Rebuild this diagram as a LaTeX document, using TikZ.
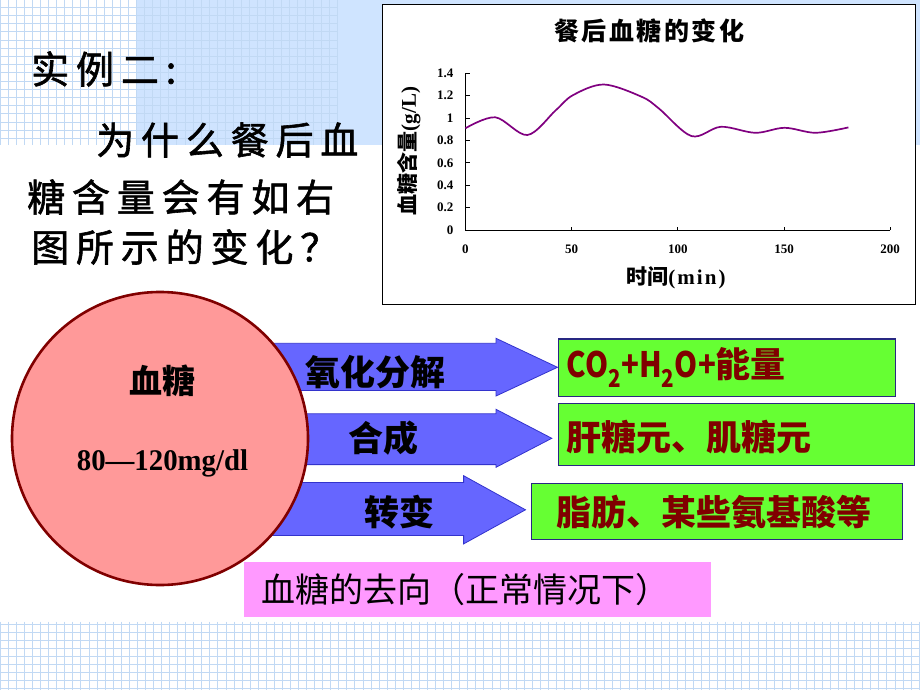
\documentclass[tikz,border=0pt]{standalone}
\usepackage{fontspec}
\usepackage{graphicx}
\setmainfont{Liberation Serif}
\newfontfamily\cjk{Noto Sans CJK SC}
\newfontfamily\cjkmid[FakeBold=1.5]{Noto Sans CJK SC}
\usetikzlibrary{shapes.geometric}
\definecolor{gridln}{RGB}{193,217,244}
\definecolor{skyfill}{RGB}{207,228,255}
\definecolor{arrowfill}{RGB}{102,102,255}
\definecolor{arrowline}{RGB}{51,51,204}
\definecolor{boxgreen}{RGB}{102,255,51}
\definecolor{boxline}{RGB}{40,40,130}
\definecolor{txtred}{RGB}{128,0,0}
\definecolor{circfill}{RGB}{255,153,153}
\definecolor{circline}{RGB}{128,0,0}
\definecolor{pinkbox}{RGB}{255,153,255}
\definecolor{curvecol}{RGB}{128,0,128}
\tikzset{
  gl/.style={draw=gridln, line width=0.9pt},
  blockarrow/.style={fill=arrowfill, draw=arrowline, line width=0.8pt, line join=miter},
  gbox/.style={fill=boxgreen, draw=boxline, line width=1.2pt, inner sep=0pt},
  gtext/.style={font=\cjk\bfseries\fontsize{35}{40}\selectfont, text=txtred, inner sep=0pt},
  atext/.style={font=\cjk\bfseries\fontsize{35}{40}\selectfont, inner sep=0pt},
  bigq/.style={font=\cjkmid\fontsize{38}{42}\selectfont\addfontfeatures{LetterSpace=18}, inner sep=0pt, anchor=west},
  ticklab/.style={font=\bfseries\fontsize{13}{15}\selectfont, inner sep=0pt},
}
\begin{document}
\begin{tikzpicture}[x=1pt,y=-1pt]
\useasboundingbox (0,0) rectangle (920,690);
% background decoration
\fill[skyfill] (137,0) rectangle (920,145);
\foreach \i in {0,...,42} \draw[gl] ({0.5+8.02*\i},0) -- ({0.5+8.02*\i},145);
\foreach \j in {0,...,16} \draw[gl] (0,{7.3+8.2*\j}) -- (337.3,{7.3+8.2*\j});
\foreach \i in {0,...,114} \draw[gl] ({0.3+8.06*\i},621.5) -- ({0.3+8.06*\i},690);
\foreach \j in {0,...,8} \draw[gl] (0,{624.5+8.05*\j}) -- (920,{624.5+8.05*\j});

% question text
\node[bigq] (q1) at (31,69) {实例二:};
\node[bigq] (q2) at (96,140) {为什么餐后血};
\node[bigq] (q3) at (27,197) {糖含量会有如右};
\node[bigq] (q4) at (31,247) {图所示的变化？};

% chart
\node[draw=black, fill=white, line width=0.9pt, minimum width=533, minimum height=300, inner sep=0pt, anchor=north west] (chart) at (382,4) {};
\node[font=\cjk\bfseries\fontsize{25}{28}\selectfont\addfontfeatures{LetterSpace=10}, inner sep=0pt] (ctitle) at (649,31) {餐后血糖的变化};
\coordinate (O) at (465.4,230);
\coordinate (ytop) at (465.4,73.3);
\coordinate (xend) at (890.2,230);
\draw[line width=0.8pt] (ytop) -- (O) -- (xend);
\foreach \v/\lab in {0/0,0.2/0.2,0.4/0.4,0.6/0.6,0.8/0.8,1/1,1.2/1.2,1.4/1.4} {
  \draw[line width=0.8pt] (465.4,{230-111.9*\v}) -- (469.5,{230-111.9*\v});
  \node[ticklab, anchor=east] at (453.5,{230-111.9*\v}) {\lab};
}
\foreach \t in {0,50,100,150,200} {
  \draw[line width=0.8pt] ({465.4+2.124*\t},230) -- ({465.4+2.124*\t},226.5);
  \node[ticklab] at ({465.4+2.124*\t},249) {\t};
}
\node[font=\bfseries\fontsize{21}{24}\selectfont, inner sep=0pt] (xlab) at (676,278) {{\cjk 时间}\addfontfeatures{LetterSpace=10}(min)};
\node[font=\bfseries\fontsize{21}{24}\selectfont, inner sep=0pt, rotate=90] (ylab) at (409,151) {{\cjk 血糖含量}(g/L)};
\draw[curvecol, line width=1.7pt] plot[smooth, tension=0.55] coordinates {
 (465.4,128.3) (495.3,117.3) (527.4,135.0) (555.7,110.3) (572.9,95.2)
 (603.9,84.5) (641.7,96.8) (658.9,108.5) (691.6,136.1) (720.9,126.8)
 (755.3,132.8) (784.6,127.8) (815.6,132.8) (848.4,127.4)};

% block arrows (behind the circle)
\path[blockarrow] (250,343.3) -- (496,343.3) -- (496,338.3) -- (557.5,367.3) -- (496,396) -- (496,390.5) -- (250,390.5) -- cycle;
\path[blockarrow] (250,413.8) -- (496,413.8) -- (496,409.3) -- (551.8,438.3) -- (496,467.3) -- (496,464.6) -- (250,464.6) -- cycle;
\path[blockarrow] (250,482.5) -- (463.6,482.5) -- (463.6,475.7) -- (525.5,509.8) -- (463.6,543.9) -- (463.6,535.5) -- (250,535.5) -- cycle;

% circle
\node[ellipse, fill=circfill, draw=circline, line width=2.6pt, minimum width=296, minimum height=293, inner sep=0pt] (blood) at (160,438.5) {};
\node[font=\cjk\bfseries\fontsize{33}{38}\selectfont, inner sep=0pt] (bname) at (162,381) {血糖};
\node[font=\bfseries\fontsize{30}{34}\selectfont, inner sep=0pt] (brange) at (162.5,463) {\scalebox{0.96}[1]{80—120mg/dl}};

% arrow labels
\node[atext] (a1) at (375.5,372) {氧化分解};
\node[atext] (a2) at (383,438) {合成};
\node[atext] (a3) at (399,512) {转变};

% green boxes
\node[gbox, minimum width=337.3, minimum height=57.2, anchor=north west] (b1) at (557.7,338.3) {};
\node[gbox, minimum width=356.5, minimum height=62, anchor=north west] (b2) at (557.5,403) {};
\node[gbox, minimum width=371, minimum height=56.5, anchor=north west] (b3) at (531,482.5) {};
\node[gtext, anchor=west] (t1) at ([xshift=9]b1.west) {\scalebox{0.84}[1]{CO\textsubscript{2}+H\textsubscript{2}O+}能量};
\node[gtext, anchor=west] (t2) at ([xshift=9,yshift=-3]b2.west) {肝糖元、肌糖元};
\node[gtext, anchor=west] (t3) at ([xshift=25,yshift=-1]b3.west) {脂肪、某些氨基酸等};

% pink caption
\node[fill=pinkbox, minimum width=467.5, minimum height=55, inner sep=0pt, anchor=north west] (cap) at (243.5,561.7) {};
\node[font=\cjk\fontsize{34}{38}\selectfont, inner sep=0pt, anchor=west] (captxt) at ([xshift=17.5]cap.west) {血糖的去向（正常情况下）};
\end{tikzpicture}
\end{document}
